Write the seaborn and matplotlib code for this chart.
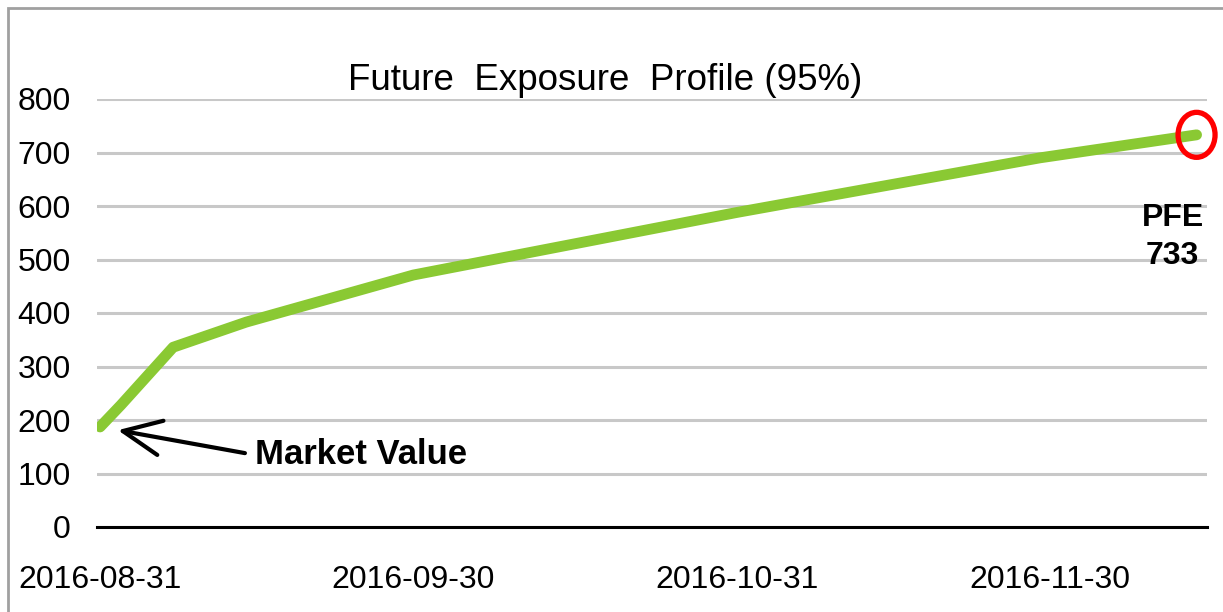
import matplotlib
matplotlib.use("Agg")
import matplotlib.pyplot as plt
import matplotlib.dates as mdates
from matplotlib.patches import Ellipse, Rectangle
from matplotlib.transforms import ScaledTranslation
import seaborn as sns
import pandas as pd

# ---- data ----
dates = ["2016-08-31", "2016-09-02", "2016-09-07", "2016-09-14", "2016-09-30",
         "2016-10-31", "2016-11-29", "2016-12-14"]
exposure = [187, 228, 336, 383, 471, 588, 690, 733]
tick_dates = ["2016-08-31", "2016-09-30", "2016-10-31", "2016-11-30"]
y_ticks = [0, 100, 200, 300, 400, 500, 600, 700, 800]
title = "Future  Exposure  Profile (95%)"

df = pd.DataFrame({"date": pd.to_datetime(dates), "pfe": exposure})

sns.set_style("white")
plt.rcParams["font.family"] = ["Liberation Sans Narrow", "Liberation Sans", "DejaVu Sans"]
plt.rcParams["text.color"] = "black"
plt.rcParams["xtick.color"] = "black"
plt.rcParams["ytick.color"] = "black"

W, H = 1223, 612
fig = plt.figure(figsize=(W / 100, H / 100), dpi=100)
ax = fig.add_axes([97 / W, 1 - 527 / H, (1207 - 97) / W, (527 - 99) / H])

sns.lineplot(data=df, x="date", y="pfe", ax=ax, color="#8AC933", lw=7.8,
             solid_capstyle="round", solid_joinstyle="round", zorder=3)

ax.set_ylim(0, 800)
x0 = pd.Timestamp(dates[0]) - pd.Timedelta(hours=7)
x1 = pd.Timestamp(dates[-1]) + pd.Timedelta(hours=24)
ax.set_xlim(x0, x1)
ax.set_yticks(y_ticks)
ax.set_xticks(pd.to_datetime(tick_dates))
ax.xaxis.set_major_formatter(mdates.DateFormatter("%Y-%m-%d"))
ax.set_xlabel("")
ax.set_ylabel("")
ax.tick_params(axis="y", length=0, pad=19, labelsize=23, labelcolor="black")
ax.tick_params(axis="x", length=0, pad=27, labelsize=23, labelcolor="black")
ax.yaxis.grid(True, color="#C8C8C8", lw=2.2, zorder=0)
ax.xaxis.grid(False)
for s in ["top", "right", "left"]:
    ax.spines[s].set_visible(False)
ax.spines["bottom"].set_color("black")
ax.spines["bottom"].set_linewidth(2.2)
ax.spines["bottom"].set_zorder(2)

# title
fig.text(605 / W, 1 - 90 / H, title, ha="center", va="baseline", fontsize=26.5,
         color="black")

# red circle on last point
last_x = mdates.date2num(df["date"].iloc[-1])
last_y = df["pfe"].iloc[-1]
tr = fig.dpi_scale_trans + ScaledTranslation(last_x, last_y, ax.transData)
ell = Ellipse((0, 0), width=0.37, height=0.45, fill=False, edgecolor="#FF0000",
              lw=3.8, transform=tr, zorder=5, clip_on=False)
ax.add_patch(ell)

# PFE label
ax.annotate(f"PFE\n{last_y:.0f}", xy=(last_x, last_y), xytext=(-24, -102),
            textcoords="offset pixels", ha="center", va="center",
            fontsize=23, fontweight="bold", linespacing=1.35, color="black")

# Market value annotation
ax.annotate("Market Value", xy=(mdates.date2num(df["date"].iloc[0]), exposure[0]),
            xytext=(155, -28), textcoords="offset pixels", ha="left", va="center",
            fontsize=25, fontweight="bold", color="black",
            arrowprops=dict(arrowstyle="->, head_length=1.1, head_width=0.5",
                            color="black", lw=3, shrinkA=5, shrinkB=13,
                            relpos=(0, 0.5)))

# figure border
fig.patches.append(Rectangle((8 / W, -0.05), 1.2, 1 - 8 / H + 0.05,
                             transform=fig.transFigure, fill=False,
                             edgecolor="#A0A0A0", lw=2))

fig.savefig("out.png", dpi=100)
